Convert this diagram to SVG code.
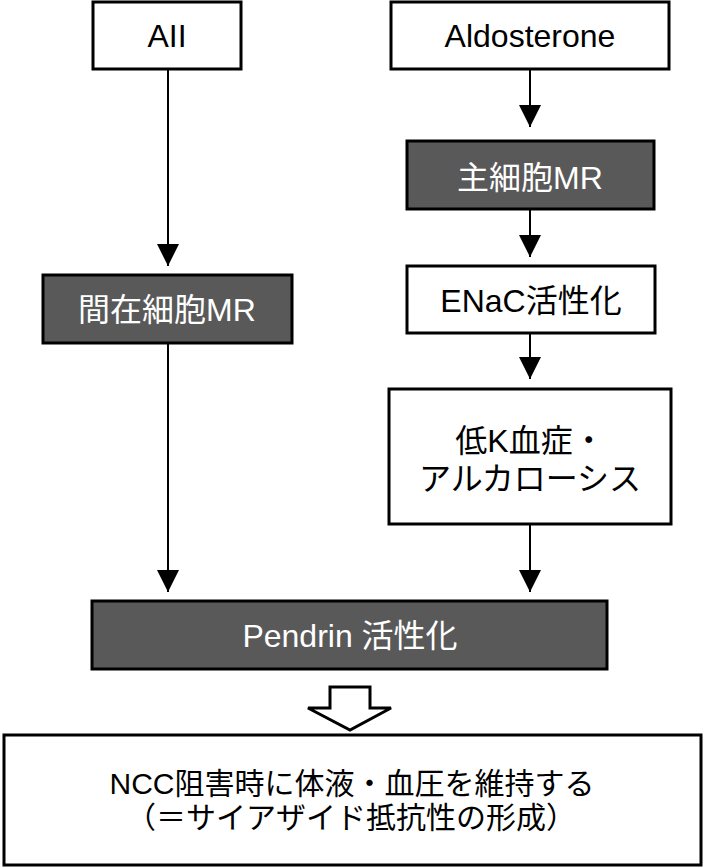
<svg xmlns="http://www.w3.org/2000/svg" width="703" height="867" viewBox="0 0 703 867">
<style>
.box{fill:#ffffff;stroke:#000000;stroke-width:3}
.dark{fill:#595959;stroke:#000000;stroke-width:3}
text{font-family:"Liberation Sans","Noto Sans CJK JP",sans-serif;font-size:32px;text-anchor:middle}
text.sm{font-size:30px}
.w{fill:#ffffff}
.b{fill:#000000}
.conn{stroke:#000000;stroke-width:2;fill:none;marker-end:url(#ah)}
</style>
<defs>
<marker id="ah" viewBox="0 0 22 22" refX="22" refY="11" markerWidth="22" markerHeight="22" markerUnits="userSpaceOnUse" orient="auto">
<path d="M0,0 L22,11 L0,22 Z" fill="#000000"/>
</marker>
</defs>
<rect width="703" height="867" fill="#ffffff"/>
<g id="connectors">
<line class="conn" x1="168" y1="69" x2="168" y2="266"/>
<line class="conn" x1="530" y1="69" x2="530" y2="127"/>
<line class="conn" x1="530" y1="209" x2="530" y2="257"/>
<line class="conn" x1="530" y1="333" x2="530" y2="379"/>
<line class="conn" x1="530" y1="524" x2="530" y2="592"/>
<line class="conn" x1="168" y1="343" x2="168" y2="592"/>
<polygon points="330,687 370,687 370,708 391,708 350,730 308,708 330,708" fill="#ffffff" stroke="#000000" stroke-width="3"/>
</g>
<g id="node-aii">
<rect class="box" x="93" y="2" width="148" height="67"/>
<text class="b" x="167" y="47">AII</text>
</g>
<g id="node-aldosterone">
<rect class="box" x="391" y="2" width="278" height="67"/>
<text class="b" x="530" y="47">Aldosterone</text>
</g>
<g id="node-principal-mr">
<rect class="dark" x="407" y="141" width="247" height="68"/>
<text class="w" x="530" y="189">主細胞MR</text>
</g>
<g id="node-enac">
<rect class="box" x="407" y="266" width="248" height="67"/>
<text class="b" x="531" y="312">ENaC活性化</text>
</g>
<g id="node-intercalated-mr">
<rect class="dark" x="43" y="275" width="249" height="68"/>
<text class="w" x="167" y="321">間在細胞MR</text>
</g>
<g id="node-hypok">
<rect class="box" x="389" y="389" width="282" height="135"/>
<text class="b" x="530" y="452">低K血症・</text>
<text class="b" x="530" y="490">アルカローシス</text>
</g>
<g id="node-pendrin">
<rect class="dark" x="92" y="601" width="515" height="68"/>
<text class="w" x="350" y="647">Pendrin 活性化</text>
</g>
<g id="node-result">
<rect class="box" x="4" y="735" width="697" height="130"/>
<text class="b sm" x="352" y="794">NCC阻害時に体液・血圧を維持する</text>
<text class="b sm" x="351" y="828">（＝サイアザイド抵抗性の形成）</text>
</g>
</svg>
